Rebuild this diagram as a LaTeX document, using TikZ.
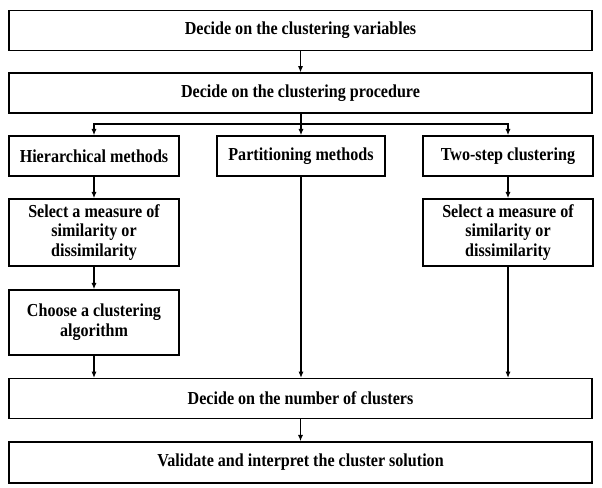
\documentclass[tikz,border=0pt]{standalone}
\usepackage{fontspec}
\setmainfont{Liberation Serif}
\newfontfamily\boxfont[FakeStretch=0.88]{Liberation Serif}
\usetikzlibrary{arrows.meta,positioning}

\begin{document}
\begin{tikzpicture}[x=0.025cm,y=-0.025cm,
    box/.style={draw,line width=1pt,inner sep=0pt,align=center,
        font=\boxfont\fontsize{13}{14.2}\selectfont\bfseries},
    wide/.style={box,minimum width=14.575cm,minimum height=0.99cm},
    narrow/.style={box,minimum width=4.25cm,minimum height=1cm},
    arr/.style={line width=1pt,-{Latex[length=4.5pt,width=3.6pt]}}]
\useasboundingbox (0,0) rectangle (602,487);

% main steps
\node[wide] (vars) at (300.5,30.5) {Decide on the clustering variables};
\node[wide] (proc) at (300.5,93) {Decide on the clustering procedure};

% the three procedures
\node[narrow] (hier) at (94,156) {Hierarchical methods};
\node[narrow,minimum width=4.2cm] (part) at (301,156) {Partitioning methods};
\node[narrow] (twostep) at (508,156) {Two-step clustering};

\node[narrow,minimum height=1.675cm] (simh) at (94,232.5) {Select a measure of\\similarity or\\dissimilarity};
\node[narrow,minimum height=1.675cm] (simt) at (508,232.5) {Select a measure of\\similarity or\\dissimilarity};
\node[narrow,minimum height=1.625cm] (algo) at (94,322.5) {Choose a clustering\\algorithm};

\node[wide] (number) at (300.5,398.5) {Decide on the number of clusters};
\node[wide,minimum height=1.025cm] (valid) at (300.5,462.5) {Validate and interpret the cluster solution};

\coordinate (fork) at (301,124);

\draw[arr] (vars) -- (proc);
\draw[line width=1pt] (proc.south -| fork) -- (fork);
\draw[arr] (fork) -| (hier.north);
\draw[arr] (fork) -- (part.north -| fork);
\draw[arr] (fork) -| (twostep.north);
\draw[arr] (hier) -- (simh);
\draw[arr] (simh) -- (algo);
\draw[arr] (twostep) -- (simt);
\draw[arr] (algo.south) -- (algo.south |- number.north);
\draw[arr] (part.south -| fork) -- (number.north -| fork);
\draw[arr] (simt.south) -- (simt.south |- number.north);
\draw[arr] (number) -- (valid);
\end{tikzpicture}
\end{document}
